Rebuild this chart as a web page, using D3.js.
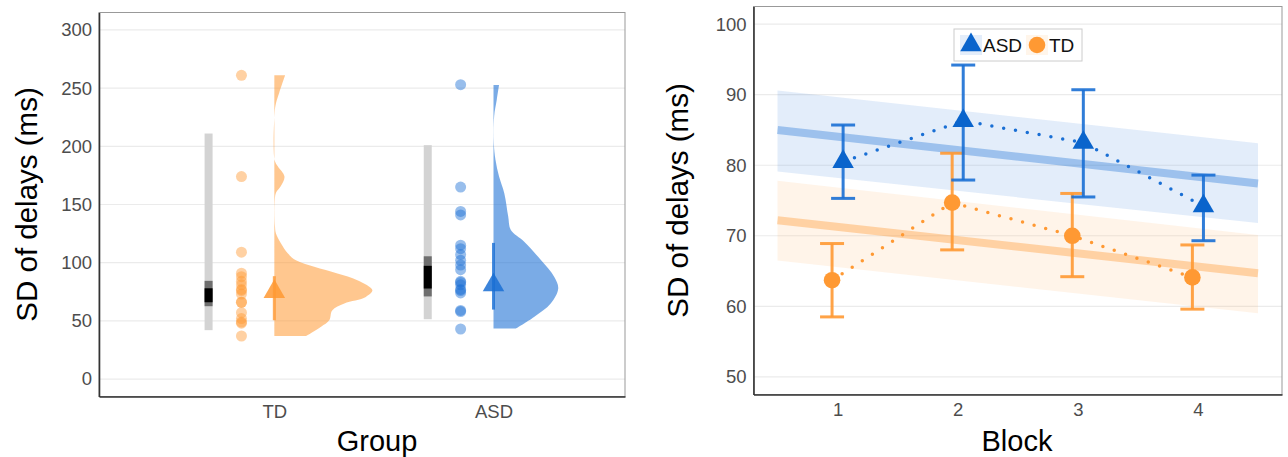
<!DOCTYPE html>
<html>
<head>
<meta charset="utf-8">
<script src="https://cdn.jsdelivr.net/npm/d3@7"></script>
<style>
  body { margin: 0; background: white; }
  text { font-family: "Liberation Sans", Arial, sans-serif; }
</style>
</head>
<body>
<div id="chart"></div>
<script>
// ---- data: left panel (raincloud) ----
const groups = ['TD', 'ASD'];
const tdPoints = [261, 174, 109, 91, 88, 84, 81, 77, 76, 73, 66, 66, 57, 52, 49, 48, 37];
const asdPoints = [253, 165, 144, 141, 115, 112, 107, 102, 98, 94, 84, 83, 81, 77, 76, 74, 59, 58, 43];
// [value, density] pairs for the half violins
const tdDensity = [[37, 9.7], [45, 14.3], [50.5, 16.8], [59, 17.7], [65, 21.4], [70.6, 28], [76.4, 30],
  [85, 25.4], [90.8, 19.3], [96.5, 12.2], [102, 6.6], [108, 4.1], [116.6, 2], [125, 0.5], [131, 0.2],
  [151, 0.1], [160, 0.5], [166, 2], [174, 3.1], [183, 1], [188, 0.1], [229, 0.1], [237, 0.5], [246, 1.5], [261, 3.3]];
const asdDensity = [[43.4, 6.8], [53.4, 12.4], [64.9, 17.5], [77.8, 19.8], [87.8, 18.6], [102.2, 14.5],
  [118, 9.4], [128, 5.3], [139.6, 4.5], [159.7, 3.3], [174, 1.7], [188.4, 0.6], [202.8, 0.1], [225.8, 0.2],
  [240, 1], [252.6, 1.7]];
// interval bars: full range, outer and inner intervals
const tdRange = [42, 211], tdOuter = [62.6, 84.4], tdInner = [66, 78];
const asdRange = [51.4, 201], asdOuter = [71, 105.5], asdInner = [77.8, 97.3];
// group mean and error range
const tdMean = 75, tdErr = [50.5, 88.4];
const asdMean = 80.7, asdErr = [59.7, 117];
const leftTicks = [0, 50, 100, 150, 200, 250, 300];

// ---- data: right panel (by block) ----
const blocks = [1, 2, 3, 4];
const asdBlockMean = [80.5, 86.3, 83.2, 74.2];
const asdBlockLo = [75.3, 77.9, 75.5, 69.3];
const asdBlockHi = [85.7, 94.2, 90.7, 78.6];
const tdBlockMean = [63.7, 74.7, 70.0, 64.1];
const tdBlockLo = [58.5, 68.0, 64.2, 59.6];
const tdBlockHi = [68.9, 81.7, 76.0, 68.7];
const fitX = [0.5, 4.5];
const asdFit = [85.0, 77.4], asdFitLo = [79.1, 71.8], asdFitHi = [90.6, 83.1];
const tdFit = [72.2, 64.7], tdFitLo = [66.5, 59.0], tdFitHi = [77.8, 70.1];
const rightTicks = [50, 60, 70, 80, 90, 100];

const orange = '#ff9933', blue = '#1a6fd4';

let width = 1288, height = 457;

let svg = d3.select('#chart')
            .append('svg')
            .attr('width', width)
            .attr('height', height)
            .style('background', 'white');

// ================= LEFT PANEL =================
let xL = d3.scaleLinear().domain([0.2, 2.6]).range([99, 625]);
let yL = d3.scaleLinear().domain([-15, 315]).range([396.5, 12.5]);

// gridlines
svg.append('g').selectAll('line')
    .data(leftTicks).enter().append('line')
    .attr('x1', xL(0.2)).attr('x2', xL(2.6))
    .attr('y1', d => yL(d)).attr('y2', d => yL(d))
    .attr('stroke', '#ebebeb').attr('stroke-width', 1.2);

// panel border
svg.append('rect')
    .attr('x', xL(0.2)).attr('y', yL(315))
    .attr('width', xL(2.6) - xL(0.2)).attr('height', yL(-15) - yL(315))
    .attr('fill', 'none').attr('stroke', '#999').attr('stroke-width', 1);

const leftGroups = [
  {name: 'TD', c: 1, pts: tdPoints, dens: tdDensity, range: tdRange, outer: tdOuter, inner: tdInner,
   mean: tdMean, err: tdErr, color: orange},
  {name: 'ASD', c: 2, pts: asdPoints, dens: asdDensity, range: asdRange, outer: asdOuter, inner: asdInner,
   mean: asdMean, err: asdErr, color: blue}
];

const densK = 0.4475 / 30;  // density -> x units

leftGroups.forEach(g => {
    // interval bars
    const bx = xL(g.c - 0.30) - 4;
    [[g.range, '#d3d3d3'], [g.outer, '#6e6e6e'], [g.inner, '#000']].forEach(([iv, col]) => {
        svg.append('rect')
            .attr('x', bx).attr('width', 8)
            .attr('y', yL(iv[1])).attr('height', yL(iv[0]) - yL(iv[1]))
            .attr('fill', col);
    });

    // raw points
    svg.append('g').selectAll('circle')
        .data(g.pts).enter().append('circle')
        .attr('cx', xL(g.c - 0.15))
        .attr('cy', d => yL(d))
        .attr('r', 5.5)
        .attr('fill', g.color)
        .attr('fill-opacity', 0.45);

    // half violin
    const area = d3.area()
        .y(d => yL(d[0]))
        .x0(xL(g.c))
        .x1(d => xL(g.c + d[1] * densK))
        .curve(d3.curveCatmullRom.alpha(0.5));
    svg.append('path')
        .datum(g.dens)
        .attr('d', area)
        .attr('fill', g.color)
        .attr('fill-opacity', g.name === 'TD' ? 0.55 : 0.58);

    // error line and mean triangle
    svg.append('line')
        .attr('x1', xL(g.c)).attr('x2', xL(g.c))
        .attr('y1', yL(g.err[0])).attr('y2', yL(g.err[1]))
        .attr('stroke', g.color).attr('stroke-opacity', 0.8).attr('stroke-width', 3);
    svg.append('path')
        .attr('d', d3.symbol(d3.symbolTriangle, 200)())
        .attr('transform', `translate(${xL(g.c)},${yL(g.mean)})`)
        .attr('fill', g.color).attr('fill-opacity', 0.85);
});

// axes
let yAxisL = svg.append('g')
    .attr('transform', `translate(${xL(0.2)},0)`)
    .call(d3.axisLeft(yL).tickValues(leftTicks).tickSize(0).tickPadding(7));
let xAxisL = svg.append('g')
    .attr('transform', `translate(0,${yL(-15)})`)
    .call(d3.axisBottom(xL).tickValues([1, 2]).tickFormat(d => groups[d - 1]).tickSize(0).tickPadding(8));

// ================= RIGHT PANEL =================
let xR = d3.scaleLinear().domain([0.3, 4.7]).range([753.5, 1282]);
let yR = d3.scaleLinear().domain([47.5, 102.5]).range([394.5, 6.5]);

svg.append('g').selectAll('line')
    .data(rightTicks).enter().append('line')
    .attr('x1', xR(0.3)).attr('x2', xR(4.7))
    .attr('y1', d => yR(d)).attr('y2', d => yR(d))
    .attr('stroke', '#ebebeb').attr('stroke-width', 1.2);

svg.append('rect')
    .attr('x', xR(0.3)).attr('y', yR(102.5))
    .attr('width', xR(4.7) - xR(0.3)).attr('height', yR(47.5) - yR(102.5))
    .attr('fill', 'none').attr('stroke', '#999').attr('stroke-width', 1);

const series = [
  {name: 'TD', mean: tdBlockMean, lo: tdBlockLo, hi: tdBlockHi, fit: tdFit, fitLo: tdFitLo, fitHi: tdFitHi,
   color: orange, dodge: -0.046, bandOp: 0.11, lineOp: 0.38},
  {name: 'ASD', mean: asdBlockMean, lo: asdBlockLo, hi: asdBlockHi, fit: asdFit, fitLo: asdFitLo, fitHi: asdFitHi,
   color: blue, dodge: 0.046, bandOp: 0.12, lineOp: 0.35}
];

// ribbons and fitted lines
series.forEach(s => {
    const band = fitX.map((x, i) => ({x: x, lo: s.fitLo[i], hi: s.fitHi[i], y: s.fit[i]}));
    svg.append('path')
        .datum(band)
        .attr('d', d3.area().x(d => xR(d.x)).y0(d => yR(d.lo)).y1(d => yR(d.hi)))
        .attr('fill', s.color).attr('fill-opacity', s.bandOp);
    svg.append('path')
        .datum(band)
        .attr('d', d3.line().x(d => xR(d.x)).y(d => yR(d.y)))
        .attr('fill', 'none')
        .attr('stroke', s.color).attr('stroke-opacity', s.lineOp).attr('stroke-width', 8);
});

// dotted connection lines, error bars, markers
series.forEach(s => {
    const pts = blocks.map((b, i) => ({x: b + s.dodge, y: s.mean[i], lo: s.lo[i], hi: s.hi[i]}));
    svg.append('path')
        .datum(pts)
        .attr('d', d3.line().x(d => xR(d.x)).y(d => yR(d.y)))
        .attr('fill', 'none')
        .attr('stroke', s.color).attr('stroke-width', 3.5)
        .attr('stroke-linecap', 'round')
        .attr('stroke-dasharray', '0 12');

    const eb = svg.append('g').attr('stroke', s.color).attr('stroke-opacity', 0.9).attr('stroke-width', 3);
    pts.forEach(d => {
        const cx = xR(d.x);
        eb.append('line').attr('x1', cx).attr('x2', cx).attr('y1', yR(d.lo)).attr('y2', yR(d.hi));
        eb.append('line').attr('x1', cx - 12).attr('x2', cx + 12).attr('y1', yR(d.lo)).attr('y2', yR(d.lo));
        eb.append('line').attr('x1', cx - 12).attr('x2', cx + 12).attr('y1', yR(d.hi)).attr('y2', yR(d.hi));
    });

    if (s.name === 'ASD') {
        svg.append('g').selectAll('path')
            .data(pts).enter().append('path')
            .attr('d', d3.symbol(d3.symbolTriangle, 200)())
            .attr('transform', d => `translate(${xR(d.x)},${yR(d.y)})`)
            .attr('fill', '#0a64cc');
    } else {
        svg.append('g').selectAll('circle')
            .data(pts).enter().append('circle')
            .attr('cx', d => xR(d.x)).attr('cy', d => yR(d.y))
            .attr('r', 8.3)
            .attr('fill', orange);
    }
});

let yAxisR = svg.append('g')
    .attr('transform', `translate(${xR(0.3)},0)`)
    .call(d3.axisLeft(yR).tickValues(rightTicks).tickSize(0).tickPadding(7));
let xAxisR = svg.append('g')
    .attr('transform', `translate(0,${yR(47.5)})`)
    .call(d3.axisBottom(xR).tickValues(blocks).tickFormat(d3.format('d')).tickSize(0).tickPadding(8));

// style axes like the reference
svg.selectAll('.domain').attr('stroke', '#333').attr('stroke-width', 1.6);
svg.selectAll('.tick text')
    .attr('fill', '#4d4d4d')
    .style('font-size', '18.5px')
    .style('font-family', '"Liberation Sans", Arial, sans-serif');

// legend
const legend = svg.append('g').attr('transform', 'translate(954,29)');
legend.append('rect')
    .attr('width', 128).attr('height', 32)
    .attr('fill', 'white').attr('stroke', '#cccccc').attr('stroke-width', 1);
legend.append('rect').attr('x', 6).attr('y', 6).attr('width', 22).attr('height', 20)
    .attr('fill', blue).attr('fill-opacity', 0.12);
legend.append('path')
    .attr('d', d3.symbol(d3.symbolTriangle, 200)())
    .attr('transform', 'translate(17,16)')
    .attr('fill', '#0a64cc');
legend.append('text').attr('x', 29).attr('y', 23).text('ASD')
    .style('font-size', '19px').attr('fill', '#111');
legend.append('rect').attr('x', 72).attr('y', 6).attr('width', 22).attr('height', 20)
    .attr('fill', orange).attr('fill-opacity', 0.1);
legend.append('circle').attr('cx', 83).attr('cy', 16).attr('r', 8.3).attr('fill', orange);
legend.append('text').attr('x', 95).attr('y', 23).text('TD')
    .style('font-size', '19px').attr('fill', '#111');

// axis titles
svg.append('text')
    .attr('x', 377).attr('y', 451)
    .text('Group')
    .style('font-size', '29px')
    .style('text-anchor', 'middle');
svg.append('text')
    .attr('x', 1017).attr('y', 451)
    .text('Block')
    .style('font-size', '29px')
    .style('text-anchor', 'middle');
svg.append('text')
    .attr('transform', `translate(37,${(yL(-15) + yL(315)) / 2}) rotate(-90)`)
    .text('SD of delays (ms)')
    .style('font-size', '29.5px')
    .style('text-anchor', 'middle');
svg.append('text')
    .attr('transform', `translate(688,${(yR(47.5) + yR(102.5)) / 2}) rotate(-90)`)
    .text('SD of delays (ms)')
    .style('font-size', '29.5px')
    .style('text-anchor', 'middle');
</script>
</body>
</html>
